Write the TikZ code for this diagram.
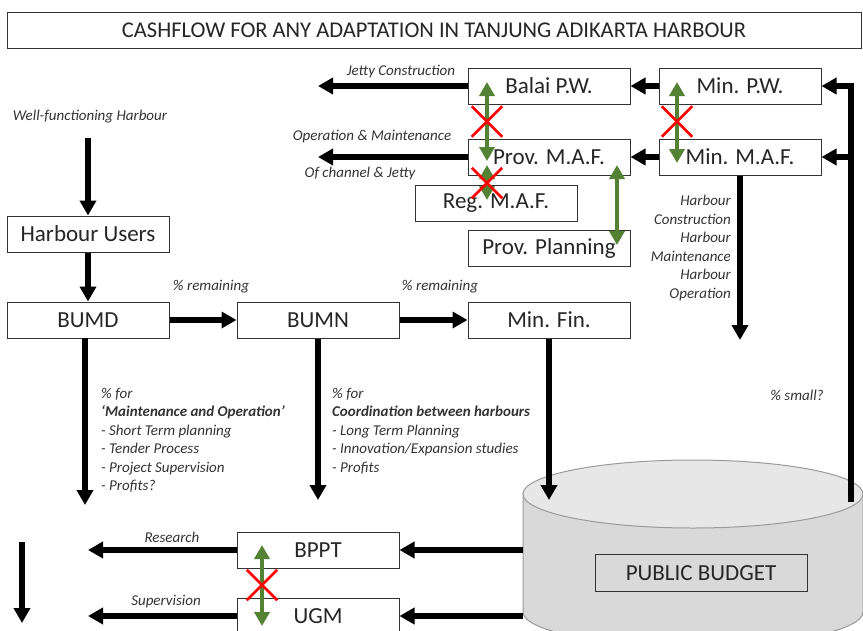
\documentclass[tikz,border=0pt]{standalone}
\usepackage{fontspec}
\setmainfont{Carlito}
\usepackage{xcolor}
\usetikzlibrary{arrows.meta, positioning, calc, shapes.misc}
\tikzset{>=Latex}

\definecolor{linkgreen}{HTML}{548235}
\definecolor{cyltop}{HTML}{E7E7E7}
\definecolor{cylside}{HTML}{D9D9D9}
\definecolor{cylline}{HTML}{9A9A9A}

\begin{document}
\begin{tikzpicture}[x=1pt,y=-1pt]

         %%%%%%%%%%%%%%%%%%%%%%%%%%%%%%%%%%%%%%%%%%%%%%%%%%%%%%%%%%%%%%%%%%%%%%
         % Parameter
         %%%%%%%%%%%%%%%%%%%%%%%%%%%%%%%%%%%%%%%%%%%%%%%%%%%%%%%%%%%%%%%%%%%%%%
         \def\boxw{162}
         \def\boxh{36}
         \def\cx{693}
         \def\cy{494}
         \def\crx{170}
         \def\cry{34}
         \def\ch{118}

         % Stile für Kästen, Geldflüsse und Verbindungen
         \tikzset{
            box/.style={
            draw=black!80, line width=1pt, fill=white,
            minimum width=\boxw pt, minimum height=\boxh pt, inner sep=0pt,
            font=\fontsize{23}{23}\selectfont, text=black!85
            },
            flow/.style={
            line width=5.5pt,
            -{Triangle[length=15pt,width=16pt]}
            },
            link/.style={
            line width=4.5pt, draw=linkgreen,
            {Triangle[length=14pt,width=15pt]}-{Triangle[length=14pt,width=15pt]}
            },
            nogo/.style={
            cross out, draw=red, line width=2.5pt,
            minimum width=28pt, minimum height=28pt, inner sep=0pt
            },
            lbl/.style={
            font=\fontsize{15}{18.5}\selectfont\itshape,
            inner sep=0pt, text=black!80
            }
         }

         \useasboundingbox (0,0) rectangle (863,630);
         \clip (0,0) rectangle (863,630);

         %%%%%%%%%%%%%%%%%%%%%%%%%%%%%%%%%%%%%%%%%%%%%%%%%%%%%%%%%%%%%%%%%%%%%%
         % Titel
         %%%%%%%%%%%%%%%%%%%%%%%%%%%%%%%%%%%%%%%%%%%%%%%%%%%%%%%%%%%%%%%%%%%%%%
         \node[box, minimum width=854pt, font=\fontsize{22.5}{22.5}\selectfont] (title)
         at (434,30) {CASHFLOW FOR ANY ADAPTATION IN TANJUNG ADIKARTA HARBOUR};

         %%%%%%%%%%%%%%%%%%%%%%%%%%%%%%%%%%%%%%%%%%%%%%%%%%%%%%%%%%%%%%%%%%%%%%
         % Staatshaushalt (Zylinder)
         %%%%%%%%%%%%%%%%%%%%%%%%%%%%%%%%%%%%%%%%%%%%%%%%%%%%%%%%%%%%%%%%%%%%%%
         \filldraw[fill=cylside, draw=cylline, line width=1pt]
         (\cx-\crx,\cy) -- (\cx-\crx,\cy+\ch)
         arc[start angle=180, end angle=0, x radius=\crx, y radius=\cry]
         -- (\cx+\crx,\cy) -- cycle;
         \filldraw[fill=cyltop, draw=cylline, line width=1pt]
         (\cx,\cy) ellipse[x radius=\crx, y radius=\cry];

         \node[box, fill=cylside, minimum width=212pt, minimum height=37pt] (budget)
         at (701,573) {PUBLIC BUDGET};

         %%%%%%%%%%%%%%%%%%%%%%%%%%%%%%%%%%%%%%%%%%%%%%%%%%%%%%%%%%%%%%%%%%%%%%
         % Kästen
         %%%%%%%%%%%%%%%%%%%%%%%%%%%%%%%%%%%%%%%%%%%%%%%%%%%%%%%%%%%%%%%%%%%%%%
         \node[box] (balai)    at (549,86)  {Balai P.W.};
         \node[box] (minpw)    at (740,86)  {Min. P.W.};
         \node[box] (provmaf)  at (549,157) {Prov. M.A.F.};
         \node[box] (minmaf)   at (740,157) {Min. M.A.F.};
         \node[box] (regmaf)   at (496,203) {Reg. M.A.F.};
         \node[box] (provplan) at (549,248) {Prov. Planning};

         \node[box] (users)  at (88,234)  {Harbour Users};
         \node[box] (bumd)   at (88,320)  {BUMD};
         \node[box] (bumn)   at (318,320) {BUMN};
         \node[box] (minfin) at (549,320) {Min. Fin.};

         \node[box] (bppt) at (318,550) {BPPT};
         \node[box] (ugm)  at (318,616) {UGM};

         %%%%%%%%%%%%%%%%%%%%%%%%%%%%%%%%%%%%%%%%%%%%%%%%%%%%%%%%%%%%%%%%%%%%%%
         % Freie Endpunkte der Pfeile
         %%%%%%%%%%%%%%%%%%%%%%%%%%%%%%%%%%%%%%%%%%%%%%%%%%%%%%%%%%%%%%%%%%%%%%
         \coordinate (cylR)     at (851,502);
         \coordinate (jettyEnd) at (318,86);
         \coordinate (omEnd)    at (318,157);
         \coordinate (mafEnd)   at (740,340);
         \coordinate (wellTop)  at (88,138);
         \coordinate (bumdTop)  at (85,338);
         \coordinate (bumdEnd)  at (85,505);
         \coordinate (bumnEnd)  at (318,500);
         \coordinate (finEnd)   at (549,500);
         \coordinate (cylBppt)  at (523,550);
         \coordinate (cylUgm)   at (523,616);
         \coordinate (resEnd)   at (88,550);
         \coordinate (supEnd)   at (88,616);
         \coordinate (leftTop)  at (22,542);
         \coordinate (leftEnd)  at (22,623);

         %%%%%%%%%%%%%%%%%%%%%%%%%%%%%%%%%%%%%%%%%%%%%%%%%%%%%%%%%%%%%%%%%%%%%%
         % Ministerien oben rechts
         %%%%%%%%%%%%%%%%%%%%%%%%%%%%%%%%%%%%%%%%%%%%%%%%%%%%%%%%%%%%%%%%%%%%%%
         \draw[flow] (cylR) |- (minpw.east);
         \draw[flow] (cylR |- minmaf.east) -- (minmaf.east);
         \draw[flow] (minpw) -- (balai);
         \draw[flow] (minmaf) -- (provmaf);

         \draw[flow] (balai) -- (jettyEnd);
         \node[lbl] (jettyLbl) at (401,72) {Jetty Construction};

         \draw[flow] (provmaf) -- (omEnd);
         \node[lbl] (omLbl)   at (372,137) {Operation \& Maintenance};
         \node[lbl] (chanLbl) at (360,173) {Of channel \& Jetty};

         \draw[flow] (minmaf) -- (mafEnd);
         \node[lbl, align=right, anchor=north east] (mafLbl) at (731,195)
         {Harbour\\Construction\\Harbour\\Maintenance\\Harbour\\Operation};

         \node[lbl] (smallLbl) at (797,395) {\% small?};

         %%%%%%%%%%%%%%%%%%%%%%%%%%%%%%%%%%%%%%%%%%%%%%%%%%%%%%%%%%%%%%%%%%%%%%
         % Hafennutzer und Betriebe
         %%%%%%%%%%%%%%%%%%%%%%%%%%%%%%%%%%%%%%%%%%%%%%%%%%%%%%%%%%%%%%%%%%%%%%
         \node[lbl] (wellLbl) at (90,117) {Well-functioning Harbour};
         \draw[flow] (wellTop) -- (users);
         \draw[flow] (users) -- (bumd);

         \draw[flow] (bumd) -- (bumn);
         \node[lbl] (remLbl1) at (211,287) {\% remaining};
         \draw[flow] (bumn) -- (minfin);
         \node[lbl] (remLbl2) at (440,287) {\% remaining};

         \draw[flow] (bumdTop) -- (bumdEnd);
         \node[lbl, align=left, anchor=north west] (bumdLbl) at (101,388)
         {\% for\\\textbf{‘Maintenance and Operation’}\\- Short Term planning\\
          - Tender Process\\- Project Supervision\\- Profits?};

         \draw[flow] (bumn) -- (bumnEnd);
         \node[lbl, align=left, anchor=north west] (bumnLbl) at (332,388)
         {\% for\\\textbf{Coordination between harbours}\\- Long Term Planning\\
          - Innovation/Expansion studies\\- Profits};

         \draw[flow] (minfin) -- (finEnd);

         %%%%%%%%%%%%%%%%%%%%%%%%%%%%%%%%%%%%%%%%%%%%%%%%%%%%%%%%%%%%%%%%%%%%%%
         % Forschung und Aufsicht
         %%%%%%%%%%%%%%%%%%%%%%%%%%%%%%%%%%%%%%%%%%%%%%%%%%%%%%%%%%%%%%%%%%%%%%
         \draw[flow] (cylBppt) -- (bppt);
         \draw[flow] (cylUgm) -- (ugm);
         \draw[flow] (bppt) -- (resEnd);
         \node[lbl] (resLbl) at (172,537) {Research};
         \draw[flow] (ugm) -- (supEnd);
         \node[lbl] (supLbl) at (166,602) {Supervision};
         \draw[flow] (leftTop) -- (leftEnd);

         %%%%%%%%%%%%%%%%%%%%%%%%%%%%%%%%%%%%%%%%%%%%%%%%%%%%%%%%%%%%%%%%%%%%%%
         % Abstimmung (grün) und fehlende Abstimmung (rotes Kreuz)
         %%%%%%%%%%%%%%%%%%%%%%%%%%%%%%%%%%%%%%%%%%%%%%%%%%%%%%%%%%%%%%%%%%%%%%
         \draw[link] ([xshift=-62pt,yshift=4pt]balai.center)
                  -- ([xshift=-62pt,yshift=-4pt]provmaf.center);
         \node[nogo] (noBalai) at ($(balai)!0.5!(provmaf)+(-62,0)$) {};

         \draw[link] ([xshift=-63pt,yshift=4pt]minpw.center)
                  -- ([xshift=-63pt,yshift=-6pt]minmaf.center);
         \node[nogo] (noMin) at ($(minpw)!0.5!(minmaf)+(-63,0)$) {};

         \draw[link] ([xshift=-62pt,yshift=-8pt]provmaf.center)
                  -- ([xshift=-9pt,yshift=3pt]regmaf.center);
         \node[nogo] (noReg) at (487,183) {};

         \draw[link] ([xshift=68pt,yshift=-8pt]provmaf.center)
                  -- ([xshift=68pt,yshift=3pt]provplan.center);

         \draw[link] ([xshift=-56pt,yshift=5pt]bppt.center)
                  -- ([xshift=-56pt,yshift=-10pt]ugm.center);
         \node[nogo] (noUgm) at (262,585) {};

\end{tikzpicture}
\end{document}
